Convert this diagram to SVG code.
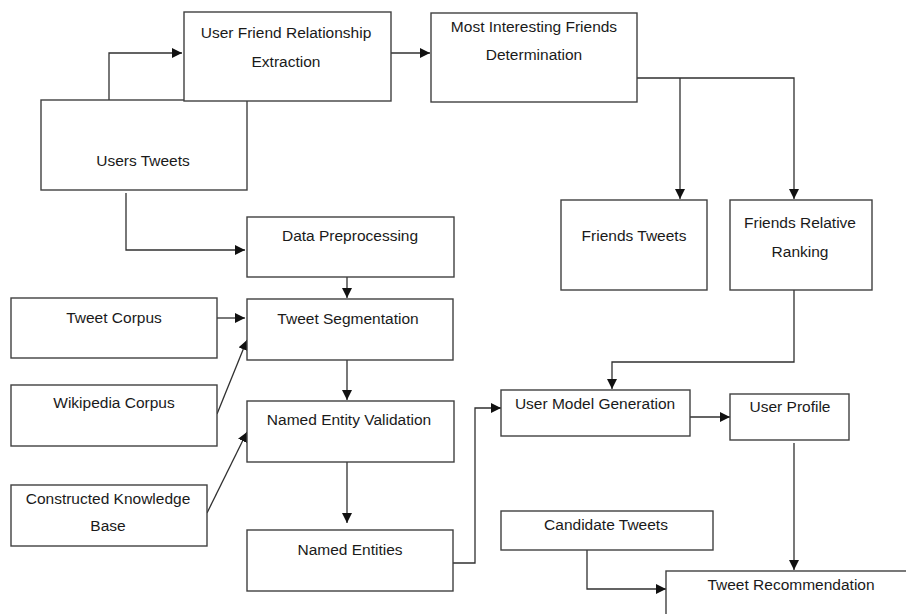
<svg xmlns="http://www.w3.org/2000/svg" width="906" height="614" viewBox="0 0 906 614">
<style>
.box{fill:#fff;stroke:#404040;stroke-width:1.4}
.lbl{font-family:"Liberation Sans",Arial,sans-serif;font-size:15.5px;fill:#1a1a1a;text-anchor:middle}
.con{fill:none;stroke:#303030;stroke-width:1.3}
</style>
<defs>
<marker id="ah" markerUnits="userSpaceOnUse" markerWidth="10" markerHeight="10" viewBox="0 0 10 10" refX="10" refY="5" orient="auto">
<path d="M0,0 L10,5 L0,10 Z" fill="#111"/>
</marker>
</defs>
<rect width="906" height="614" fill="#fff"/>
<g id="connectors">
<path class="con" d="M109,100 V53 H182" marker-end="url(#ah)"/>
<path class="con" d="M391,53 H430" marker-end="url(#ah)"/>
<path class="con" d="M637,78 H794 V199" marker-end="url(#ah)"/>
<path class="con" d="M680,78 V199" marker-end="url(#ah)"/>
<path class="con" d="M126,193 V250 H245" marker-end="url(#ah)"/>
<path class="con" d="M347,277 V298" marker-end="url(#ah)"/>
<path class="con" d="M217,318 H245" marker-end="url(#ah)"/>
<path class="con" d="M217,414 L247,340" marker-end="url(#ah)"/>
<path class="con" d="M347,360 V400" marker-end="url(#ah)"/>
<path class="con" d="M207,513 L247,432" marker-end="url(#ah)"/>
<path class="con" d="M347,462 V523" marker-end="url(#ah)"/>
<path class="con" d="M453,563 H475 V408 H501" marker-end="url(#ah)"/>
<path class="con" d="M794,290 V362 H612 V389" marker-end="url(#ah)"/>
<path class="con" d="M690,417 H730" marker-end="url(#ah)"/>
<path class="con" d="M794,443 V570" marker-end="url(#ah)"/>
<path class="con" d="M587,550 V589 H666" marker-end="url(#ah)"/>
</g>
<g id="users-tweets"><rect class="box" x="41" y="100" width="206" height="90"/><text class="lbl" x="143" y="166">Users Tweets</text></g>
<g id="user-friend-relationship-extraction"><rect class="box" x="184" y="12" width="207" height="89"/><text class="lbl" x="286" y="38">User Friend Relationship</text><text class="lbl" x="286" y="67">Extraction</text></g>
<g id="most-interesting-friends-determination"><rect class="box" x="431" y="13" width="206" height="89"/><text class="lbl" x="534" y="32">Most Interesting Friends</text><text class="lbl" x="534" y="60">Determination</text></g>
<g id="friends-tweets"><rect class="box" x="561" y="200" width="146" height="90"/><text class="lbl" x="634" y="241">Friends Tweets</text></g>
<g id="friends-relative-ranking"><rect class="box" x="730" y="200" width="142" height="90"/><text class="lbl" x="800" y="228">Friends Relative</text><text class="lbl" x="800" y="257">Ranking</text></g>
<g id="data-preprocessing"><rect class="box" x="247" y="217" width="207" height="60"/><text class="lbl" x="350" y="241">Data Preprocessing</text></g>
<g id="tweet-segmentation"><rect class="box" x="247" y="299" width="206" height="61"/><text class="lbl" x="348" y="324">Tweet Segmentation</text></g>
<g id="tweet-corpus"><rect class="box" x="11" y="298" width="206" height="60"/><text class="lbl" x="114" y="323">Tweet Corpus</text></g>
<g id="wikipedia-corpus"><rect class="box" x="11" y="385" width="206" height="61"/><text class="lbl" x="114" y="408">Wikipedia Corpus</text></g>
<g id="named-entity-validation"><rect class="box" x="247" y="401" width="207" height="61"/><text class="lbl" x="349" y="425">Named Entity Validation</text></g>
<g id="constructed-knowledge-base"><rect class="box" x="11" y="485" width="196" height="61"/><text class="lbl" x="108" y="504">Constructed Knowledge</text><text class="lbl" x="108" y="531">Base</text></g>
<g id="named-entities"><rect class="box" x="247" y="530" width="206" height="61"/><text class="lbl" x="350" y="555">Named Entities</text></g>
<g id="user-model-generation"><rect class="box" x="501" y="390" width="189" height="46"/><text class="lbl" x="595" y="409">User Model Generation</text></g>
<g id="user-profile"><rect class="box" x="730" y="394" width="119" height="46"/><text class="lbl" x="790" y="412">User Profile</text></g>
<g id="candidate-tweets"><rect class="box" x="501" y="511" width="212" height="39"/><text class="lbl" x="606" y="530">Candidate Tweets</text></g>
<g id="tweet-recommendation"><rect class="box" x="666" y="571" width="270" height="60"/><text class="lbl" x="791" y="590">Tweet Recommendation</text></g>
</svg>
